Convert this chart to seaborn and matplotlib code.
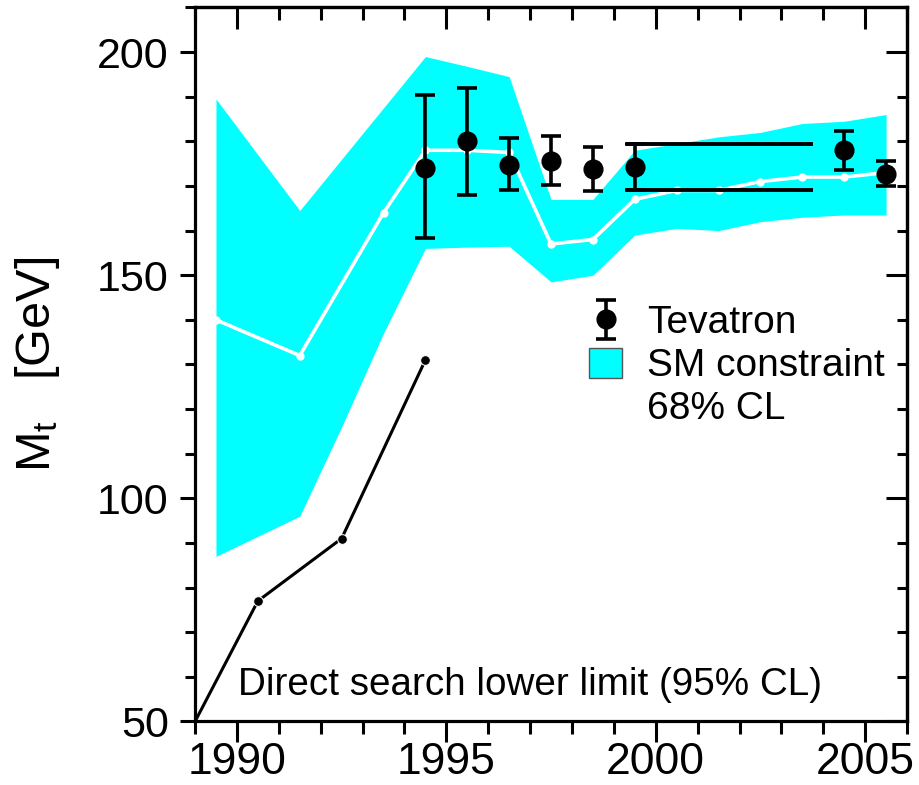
import matplotlib
matplotlib.use("Agg")
import matplotlib.pyplot as plt
import seaborn as sns
from matplotlib.patches import Patch
from matplotlib.ticker import MultipleLocator

# ---------------- data ----------------
band_years = [1989.5, 1991.5, 1992.5, 1993.5, 1994.5, 1995.5, 1996.5, 1997.5,
              1998.5, 1999.5, 2000.5, 2001.5, 2002.5, 2003.5, 2004.5, 2005.5]
band_upper = [189.5, 164.5, 176.0, 187.5, 199.0, 196.8, 194.5, 167.0,
              167.0, 178.0, 179.5, 181.0, 182.0, 184.0, 184.5, 186.0]
band_lower = [87.0, 96.0, 116.0, 137.0, 156.0, 156.3, 156.5, 148.5,
              150.0, 159.0, 160.5, 160.0, 162.0, 163.0, 163.5, 163.5]

fit_years = [1989.5, 1991.5, 1993.5, 1994.5, 1995.5, 1996.5, 1997.5, 1998.5,
             1999.5, 2000.5, 2001.5, 2002.5, 2003.5, 2004.5, 2005.5]
fit_mt = [140.0, 132.0, 164.0, 178.0, 178.0, 177.5, 157.0, 158.0,
          167.0, 169.0, 169.0, 171.0, 172.0, 172.0, 173.0]

ds_years = [1989.0, 1990.5, 1992.5, 1994.5]
ds_limit = [50.0, 77.0, 91.0, 131.0]

tev_years = [1994.5, 1995.5, 1996.5, 1997.5, 1998.5, 1999.5, 2004.5, 2005.5]
tev_mt = [174.0, 180.0, 174.8, 175.7, 173.8, 174.3, 178.0, 172.7]
tev_err_hi = [16.4, 12.0, 6.0, 5.4, 4.9, 5.1, 4.3, 2.8]
tev_err_lo = [15.6, 12.0, 5.8, 5.4, 5.0, 5.3, 4.5, 2.8]

run1_band = [169.0, 179.4]
run1_span = [1999.3, 2003.75]

x_major = [1990, 1995, 2000, 2005]
y_major = [50, 100, 150, 200]

# ---------------- style ----------------
sns.set_theme(style="ticks")
plt.rcParams["font.family"] = ["Liberation Sans", "DejaVu Sans"]
plt.rcParams["mathtext.fontset"] = "custom"
plt.rcParams["mathtext.rm"] = "Liberation Sans"
plt.rcParams["mathtext.it"] = "Liberation Sans:italic"
for k in ["text.color", "axes.labelcolor", "xtick.color", "ytick.color",
          "axes.edgecolor"]:
    plt.rcParams[k] = "black"

fig = plt.figure(figsize=(9.2, 7.85), dpi=100)
ax = fig.add_axes([0.212, 0.0809, 0.7739, 0.9096])

ax.fill_between(band_years, band_lower, band_upper, color="#00FFFF",
                linewidth=0, zorder=1)
sns.lineplot(x=fit_years, y=fit_mt, ax=ax, color="white", linewidth=2.6,
             marker="o", markersize=6, markeredgewidth=0, zorder=2)
sns.lineplot(x=ds_years, y=ds_limit, ax=ax, color="black", linewidth=2.2,
             marker="o", markersize=7, markevery=[1, 2, 3], zorder=2)
ax.hlines(run1_band, run1_span[0], run1_span[1], color="black",
          linewidth=2.8, zorder=3)
tev = ax.errorbar(tev_years, tev_mt, yerr=[tev_err_lo, tev_err_hi], fmt="o",
                  color="black", markersize=13.5, elinewidth=2.6, capsize=7,
                  capthick=2.6, zorder=4)

ax.set_xlim(1989, 2006)
ax.set_ylim(50, 210)
ax.set_xticks(x_major)
ax.set_yticks(y_major)
ax.xaxis.set_minor_locator(MultipleLocator(1))
ax.yaxis.set_minor_locator(MultipleLocator(10))
for s in ax.spines.values():
    s.set_linewidth(2.3)
    s.set_color("black")

ax.tick_params(axis="x", which="major", direction="out", length=15, width=2.2,
               labelsize=32, pad=0, colors="black")
ax.tick_params(axis="x", which="minor", direction="out", length=9, width=2.2)
ax.tick_params(axis="y", which="major", direction="out", length=11, width=2.2,
               labelsize=31, pad=8, colors="black")
ax.tick_params(axis="y", which="minor", direction="out", length=7, width=2.2)

top = ax.secondary_xaxis("top")
top.set_xticks(x_major)
top.xaxis.set_minor_locator(MultipleLocator(1))
top.tick_params(which="major", direction="in", length=16, width=2.2, labeltop=False)
top.tick_params(which="minor", direction="in", length=9, width=2.2)
top.spines["top"].set_linewidth(2.3)

right = ax.secondary_yaxis("right")
right.set_yticks(y_major)
right.yaxis.set_minor_locator(MultipleLocator(10))
right.tick_params(which="major", direction="in", length=15, width=2.2, labelright=False)
right.tick_params(which="minor", direction="in", length=7, width=2.2)
right.spines["right"].set_linewidth(2.3)

ax.set_xlabel("")
ax.set_ylabel(r"M$_\mathregular{t}$   [GeV]", fontsize=35, color="black")
ax.yaxis.set_label_coords(-0.187, 0.5)

ax.text(0.060, 0.051, "Direct search lower limit (95% CL)", transform=ax.transAxes,
        fontsize=27.8, ha="left", va="center", color="black")

handles = [tev, Patch(facecolor="#00FFFF", edgecolor="#555555", linewidth=1),
           Patch(facecolor="none", edgecolor="none")]
labels = ["Tevatron", "SM constraint", "68% CL"]
leg = ax.legend(handles, labels, loc="upper left",
                bbox_to_anchor=(589 / 920, 1 - 305 / 785),
                bbox_transform=fig.transFigure, frameon=False, fontsize=28,
                borderpad=0, borderaxespad=0, labelspacing=0.17,
                handlelength=0.85, handleheight=0.8, handletextpad=0.65)
for t in leg.get_texts():
    t.set_color("black")

fig.savefig("out.png", dpi=100)
